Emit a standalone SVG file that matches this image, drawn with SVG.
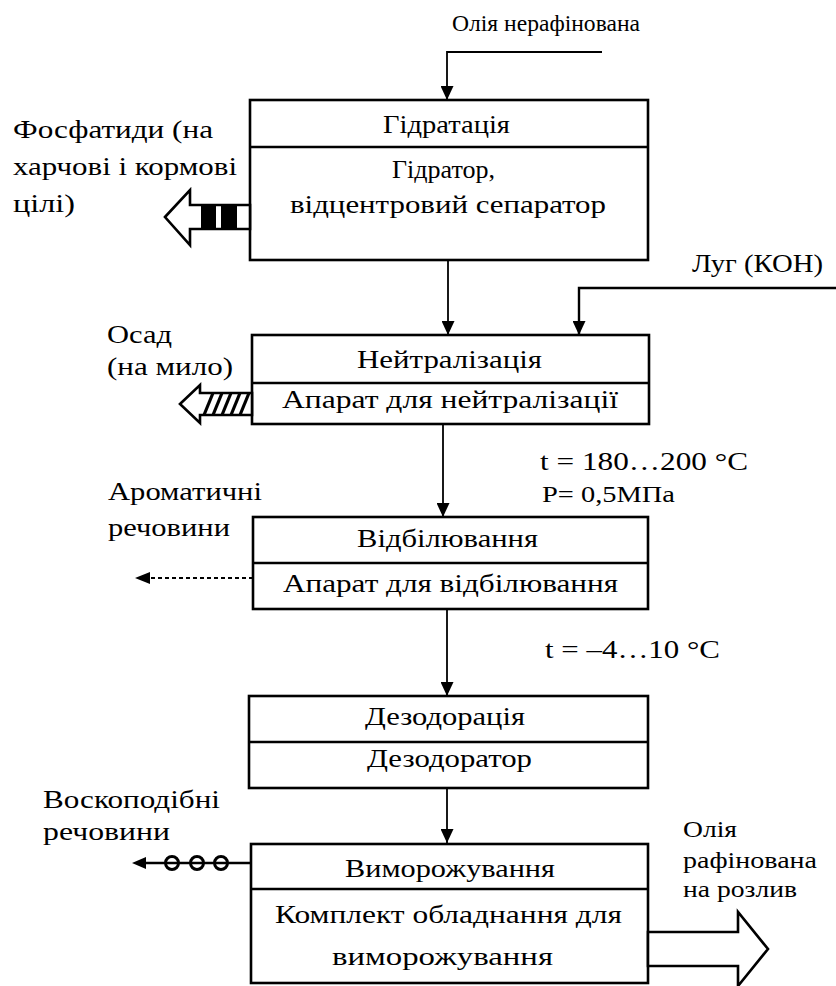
<svg xmlns="http://www.w3.org/2000/svg" width="836" height="986" viewBox="0 0 836 986" font-family="'Liberation Serif', 'DejaVu Serif', serif">
<defs>
<style>
text{font-family:'Liberation Serif','DejaVu Serif',serif;fill:#000;}
.t{font-size:25px;}
.s{font-size:25px;}
.r{font-size:23px;}
.box{fill:#fff;stroke:#000;stroke-width:2.6;}
.div{stroke:#000;stroke-width:2.4;}
.ln{fill:none;stroke:#000;stroke-width:1.8;}
.blk{fill:#fff;stroke:#000;stroke-width:2.6;stroke-linejoin:miter;}
</style>
<marker id="ah" markerUnits="userSpaceOnUse" markerWidth="14" markerHeight="13" refX="14" refY="6.5" orient="auto">
<path d="M0,0 L14,6.5 L0,13 z" fill="#000"/>
</marker>
</defs>
<rect width="836" height="986" fill="#fff"/>

<g id="connectors">
<polyline class="ln" points="602,52 447,52 447,100" marker-end="url(#ah)"/>
<line class="ln" x1="448" y1="260" x2="448" y2="335" marker-end="url(#ah)"/>
<polyline class="ln" points="836,288 579,288 579,335" marker-end="url(#ah)" style="stroke-width:2.4"/>
<line class="ln" x1="443" y1="424" x2="443" y2="517" marker-end="url(#ah)"/>
<line class="ln" x1="447" y1="609" x2="447" y2="696" marker-end="url(#ah)"/>
<line class="ln" x1="447" y1="788" x2="447" y2="843" marker-end="url(#ah)"/>
</g>

<g id="node-hydration">
<rect class="box" x="250" y="100" width="398" height="160"/>
<line class="div" x1="250" y1="147" x2="648" y2="147"/>
<text class="t" x="383" y="133" textLength="127" lengthAdjust="spacingAndGlyphs">Гідратація</text>
<text class="t" x="392" y="178" textLength="103" lengthAdjust="spacingAndGlyphs">Гідратор,</text>
<text class="t" x="290" y="213" textLength="316" lengthAdjust="spacingAndGlyphs">відцентровий сепаратор</text>
</g>

<g id="node-neutralization">
<rect class="box" x="252" y="335" width="397" height="89"/>
<line class="div" x1="252" y1="383" x2="649" y2="383"/>
<text class="t" x="357" y="368" textLength="185" lengthAdjust="spacingAndGlyphs">Нейтралізація</text>
<text class="t" x="282" y="408" textLength="336" lengthAdjust="spacingAndGlyphs">Апарат для нейтралізації</text>
</g>

<g id="node-bleaching">
<rect class="box" x="253" y="517" width="395" height="92"/>
<line class="div" x1="253" y1="563" x2="648" y2="563"/>
<text class="t" x="357" y="547" textLength="181" lengthAdjust="spacingAndGlyphs">Відбілювання</text>
<text class="t" x="283" y="592" textLength="335" lengthAdjust="spacingAndGlyphs">Апарат для відбілювання</text>
</g>

<g id="node-deodoration">
<rect class="box" x="249" y="696" width="399" height="92"/>
<line class="div" x1="249" y1="742" x2="648" y2="742"/>
<text class="t" x="365" y="725" textLength="160" lengthAdjust="spacingAndGlyphs">Дезодорація</text>
<text class="t" x="367" y="767" textLength="165" lengthAdjust="spacingAndGlyphs">Дезодоратор</text>
</g>

<g id="node-freezing">
<rect class="box" x="251" y="844" width="397" height="139"/>
<line class="div" x1="251" y1="889" x2="648" y2="889"/>
<text class="t" x="345" y="877" textLength="210" lengthAdjust="spacingAndGlyphs">Виморожування</text>
<text class="t" x="275" y="923" textLength="347" lengthAdjust="spacingAndGlyphs">Комплект обладнання для</text>
<text class="t" x="332" y="965" textLength="221" lengthAdjust="spacingAndGlyphs">виморожування</text>
</g>

<g id="input-oil">
<text class="r" x="452" y="31" textLength="188" lengthAdjust="spacingAndGlyphs">Олія нерафінована</text>
</g>

<g id="input-lye">
<text class="s" x="692" y="272" textLength="131" lengthAdjust="spacingAndGlyphs">Луг (КОН)</text>
</g>

<g id="out-phosphatides">
<polygon class="blk" points="165,217 190,190 190,205 250,205 250,229 190,229 190,245"/>
<rect x="201" y="205" width="15" height="24" fill="#000"/>
<rect x="221" y="205" width="16" height="24" fill="#000"/>
<text class="s" x="13" y="138" textLength="200" lengthAdjust="spacingAndGlyphs">Фосфатиди (на</text>
<text class="s" x="13" y="175" textLength="224" lengthAdjust="spacingAndGlyphs">харчові і кормові</text>
<text class="s" x="13" y="212" textLength="62" lengthAdjust="spacingAndGlyphs">цілі)</text>
</g>

<g id="out-sediment">
<polygon class="blk" points="180,404 200,385 200,393 252,393 252,415 200,415 200,423"/>
<g stroke="#000" stroke-width="3.2">
<line x1="204" y1="415" x2="213" y2="393"/>
<line x1="213" y1="415" x2="222" y2="393"/>
<line x1="222" y1="415" x2="231" y2="393"/>
<line x1="231" y1="415" x2="240" y2="393"/>
<line x1="240" y1="415" x2="249" y2="393"/>
</g>
<text class="s" x="107" y="343" textLength="65" lengthAdjust="spacingAndGlyphs">Осад</text>
<text class="s" x="107" y="375" textLength="126" lengthAdjust="spacingAndGlyphs">(на мило)</text>
</g>

<g id="out-aromatics">
<line x1="253" y1="578" x2="148" y2="578" stroke="#000" stroke-width="2.2" stroke-dasharray="4 3"/>
<path d="M135,578 L150,572 L150,584 z" fill="#000"/>
<text class="s" x="108" y="500" textLength="154" lengthAdjust="spacingAndGlyphs">Ароматичні</text>
<text class="s" x="108" y="536" textLength="122" lengthAdjust="spacingAndGlyphs">речовини</text>
</g>

<g id="cond-1">
<text class="s" x="540" y="470" textLength="208" lengthAdjust="spacingAndGlyphs">t = 180…200 °C</text>
<text class="r" x="542" y="502" textLength="133" lengthAdjust="spacingAndGlyphs">P= 0,5МПа</text>
</g>

<g id="cond-2">
<text class="s" x="545" y="658" textLength="175" lengthAdjust="spacingAndGlyphs">t = –4…10 °C</text>
</g>

<g id="out-wax">
<line x1="251" y1="863" x2="145" y2="863" stroke="#000" stroke-width="2.6"/>
<path d="M132,863 L146,857 L146,869 z" fill="#000"/>
<g fill="none" stroke="#000" stroke-width="3">
<circle cx="172" cy="863" r="6.5"/>
<circle cx="197" cy="863" r="6.5"/>
<circle cx="221" cy="863" r="6.5"/>
</g>
<text class="s" x="43" y="808" textLength="177" lengthAdjust="spacingAndGlyphs">Воскоподібні</text>
<text class="s" x="43" y="840" textLength="127" lengthAdjust="spacingAndGlyphs">речовини</text>
</g>

<g id="out-refined">
<polygon class="blk" points="648,932 738,932 738,912 768,949 738,986 738,966 648,966"/>
<text class="r" x="683" y="837" textLength="54" lengthAdjust="spacingAndGlyphs">Олія</text>
<text class="r" x="683" y="868" textLength="134" lengthAdjust="spacingAndGlyphs">рафінована</text>
<text class="r" x="683" y="897" textLength="114" lengthAdjust="spacingAndGlyphs">на розлив</text>
</g>
</svg>
